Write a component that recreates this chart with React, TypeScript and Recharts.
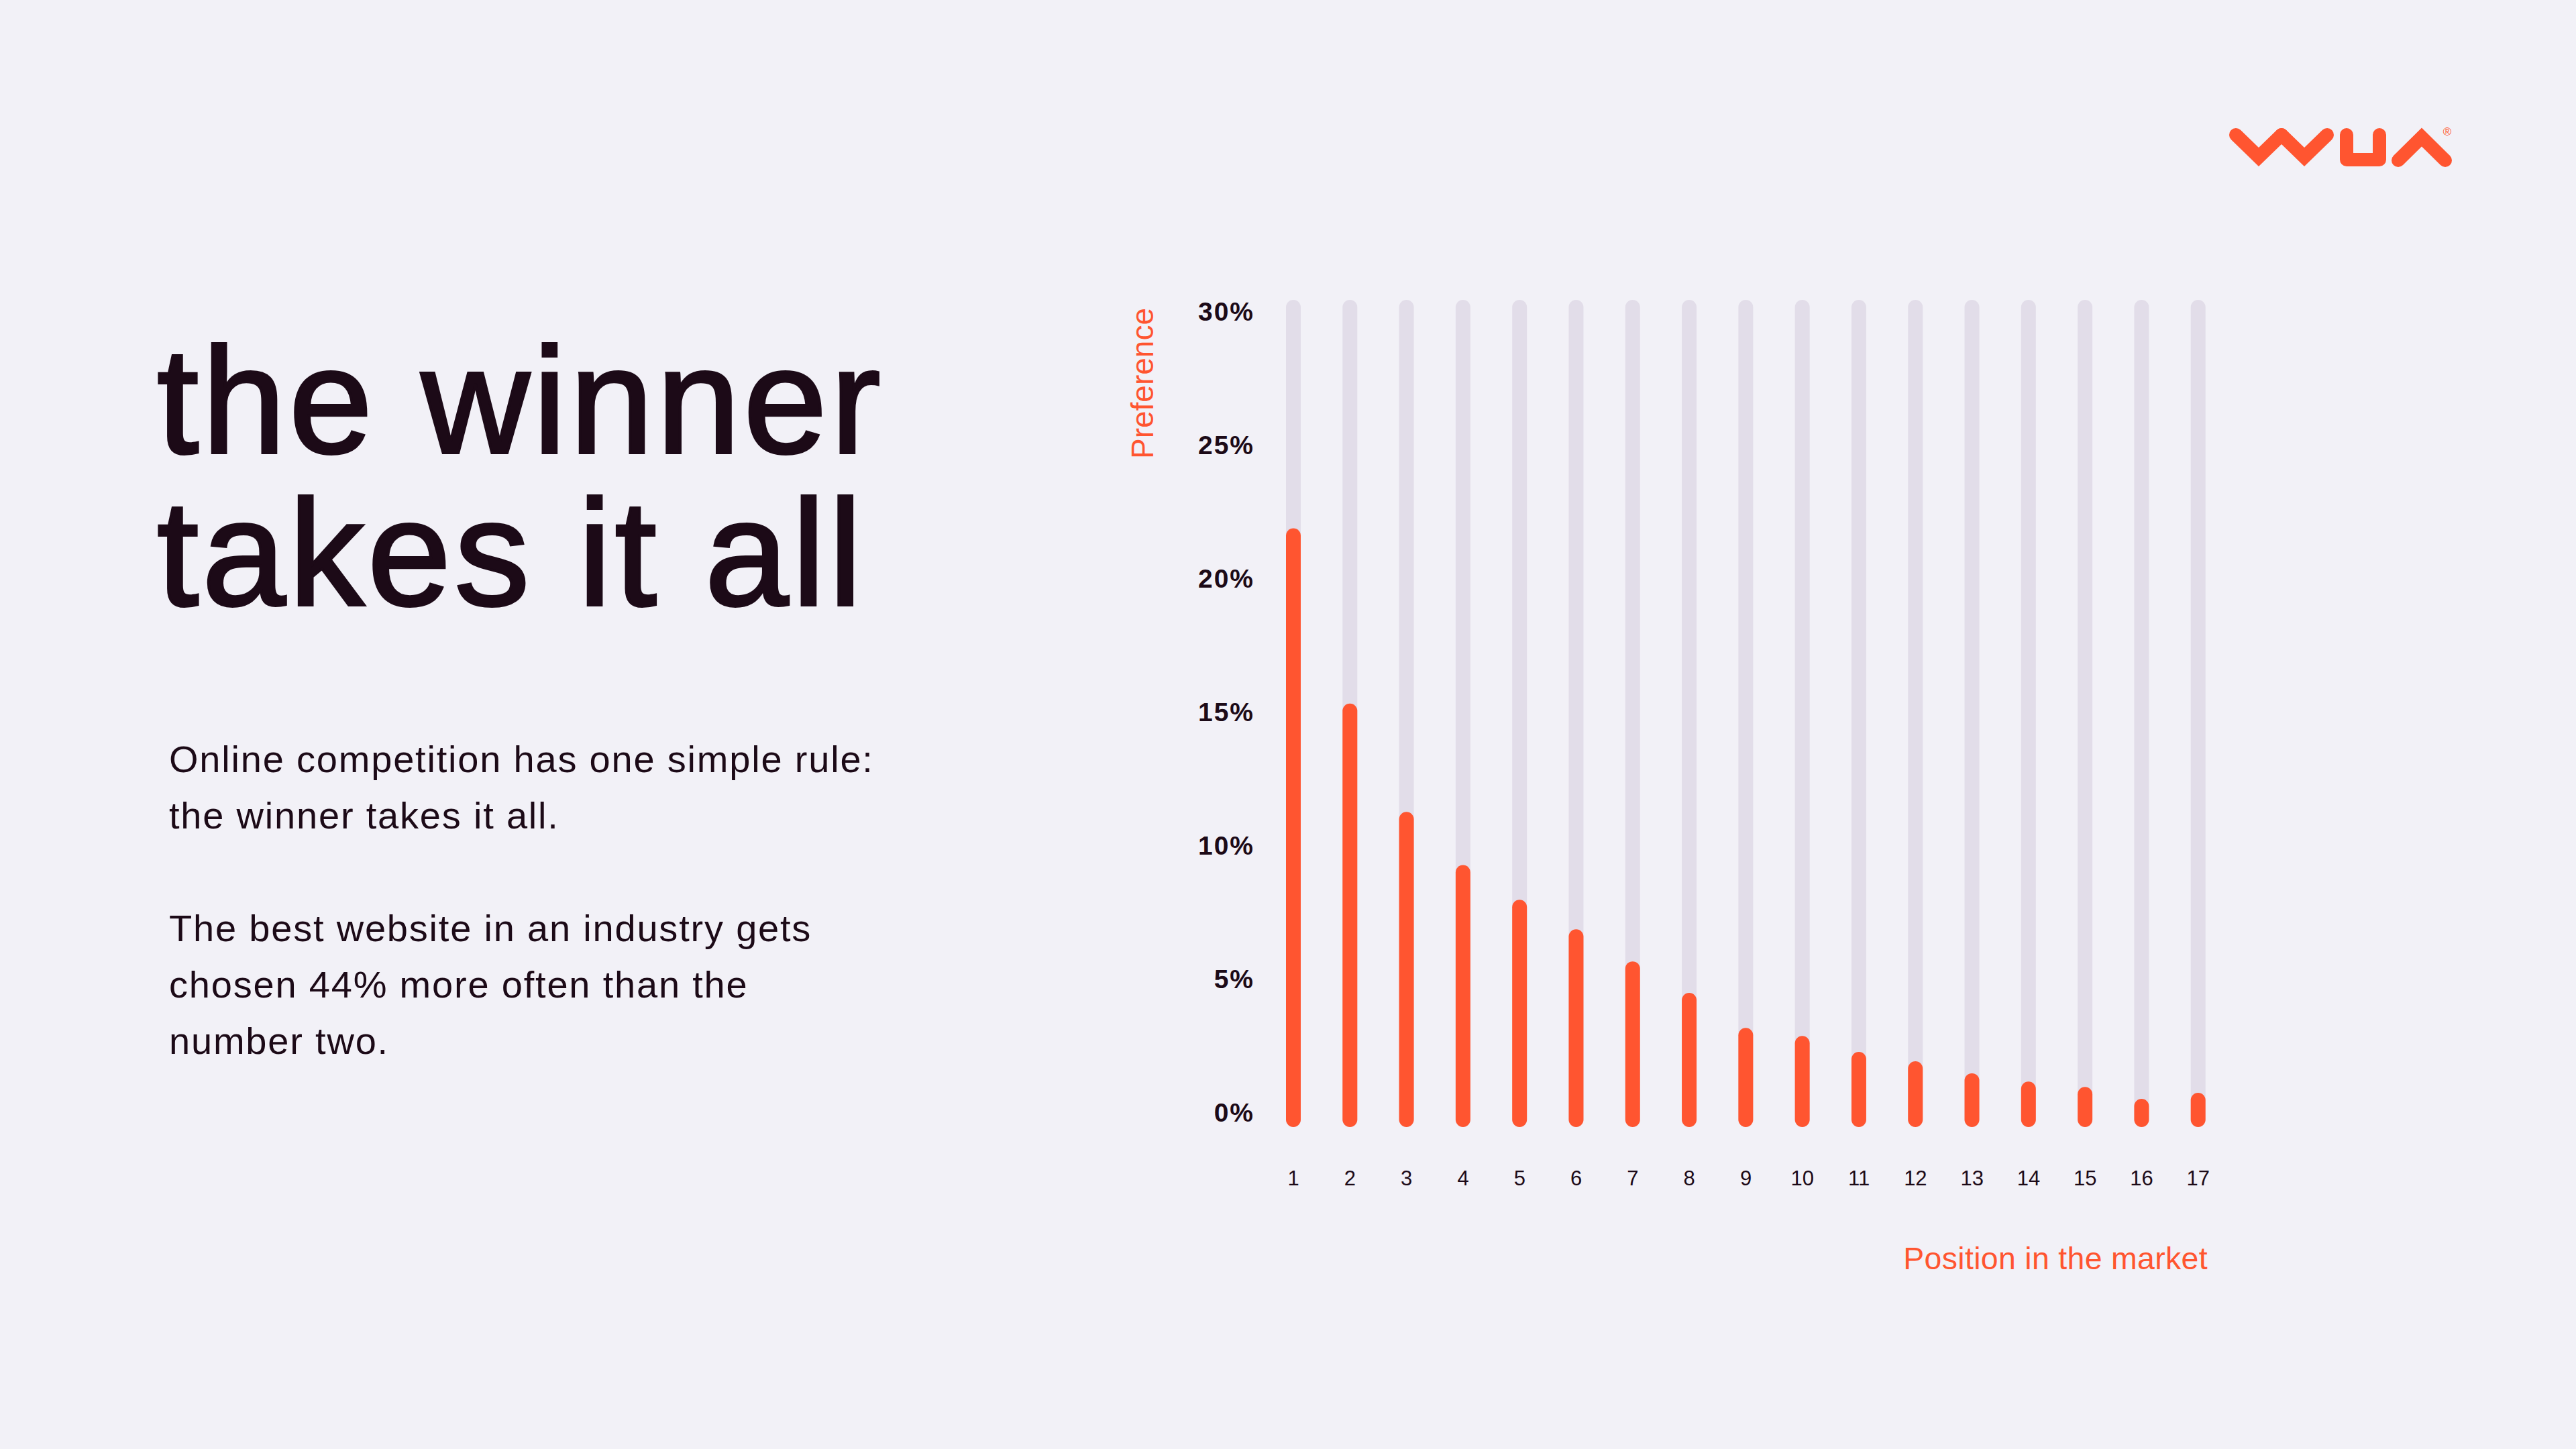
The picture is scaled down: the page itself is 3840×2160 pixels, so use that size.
import React from 'react';
import { BarChart, Bar, XAxis, YAxis } from 'recharts';

const positions = ['1', '2', '3', '4', '5', '6', '7', '8', '9', '10', '11', '12', '13', '14', '15', '16', '17'];
const preference = [21.87, 15.31, 11.25, 9.26, 7.96, 6.85, 5.65, 4.47, 3.16, 2.86, 2.26, 1.91, 1.46, 1.15, 0.95, 0.5, 0.73];
const yTicks = [0, 5, 10, 15, 20, 25, 30];

const data = positions.map((p, i) => ({ pos: p, value: preference[i] }));

const W = 3840;
const H = 2160;
const ORANGE = '#ff5530';
const GREY = '#e2dde9';
const BG = '#f2f1f7';
const INK = '#1c0a17';
const FONT = '"Liberation Sans", Arial, sans-serif';
const CAP_TOP = 17;
const CAP_BOTTOM = 22;

const Track = (p: any) => (
  <rect
    x={p.x}
    y={p.y - CAP_TOP}
    width={p.width}
    height={p.height + CAP_TOP + CAP_BOTTOM}
    rx={p.width / 2}
    ry={p.width / 2}
    fill={GREY}
  />
);

const Fill = (p: any) => (
  <rect
    x={p.x}
    y={p.y}
    width={p.width}
    height={Math.max(0, p.height) + CAP_BOTTOM}
    rx={p.width / 2}
    ry={p.width / 2}
    fill={ORANGE}
  />
);

const XH = 100;

export default function App() {
  return (
    <div
      style={{
        position: 'absolute',
        left: 0,
        top: 0,
        width: W,
        height: H,
        background: BG,
        overflow: 'hidden',
        fontFamily: FONT,
      }}
    >
      <div style={{ position: 'absolute', left: 0, top: 0 }}>
        <BarChart
          width={W}
          height={H}
          data={data}
          margin={{ top: 464, right: 521, left: 1786, bottom: H - 1658 - XH }}
        >
          <XAxis
            dataKey="pos"
            interval={0}
            axisLine={false}
            tickLine={false}
            tickSize={0}
            tickMargin={87}
            height={XH}
            tick={{ fontSize: 31, fill: INK, fontFamily: FONT }}
          />
          <YAxis
            width={100}
            domain={[0, 30]}
            ticks={yTicks}
            interval={0}
            tickFormatter={(v: number) => `${v}%`}
            axisLine={false}
            tickLine={false}
            tickSize={0}
            tickMargin={16}
            tick={{ fontSize: 39, fill: INK, fontWeight: 700, fontFamily: FONT, letterSpacing: 2 }}
          />
          <Bar
            dataKey="value"
            barSize={22}
            isAnimationActive={false}
            background={Track}
            shape={Fill}
          />
        </BarChart>
      </div>

      <svg
        width={W}
        height={H}
        style={{ position: 'absolute', left: 0, top: 0, pointerEvents: 'none' }}
      >
        <g fill="none" stroke={ORANGE} strokeWidth={20} strokeLinecap="round" strokeLinejoin="miter">
          <path d="M3333,201 L3367,234 L3401,201" />
          <path d="M3401,201 L3435,234 L3469,201" />
          <path d="M3498,201 L3498,238 L3547,238 L3547,201" strokeLinejoin="round" />
          <path d="M3575,239 L3610,204.5 L3645,239" />
        </g>
        <text x={3648} y={202} fontSize={17} fill={ORANGE} textAnchor="middle" fontFamily={FONT}>
          ®
        </text>
        <text
          x={1719}
          y={684}
          transform="rotate(-90 1719 684)"
          fontSize={46}
          fill={ORANGE}
          fontFamily={FONT}
        >
          Preference
        </text>
        <text x={3291} y={1892} fontSize={46.5} fill={ORANGE} fontFamily={FONT} textAnchor="end" letterSpacing={0.3}>
          Position in the market
        </text>
      </svg>

      <div
        style={{
          position: 'absolute',
          left: 234,
          top: 484,
          fontSize: 224,
          lineHeight: '227px',
          letterSpacing: '5px',
          color: INK,
          whiteSpace: 'nowrap',
          WebkitTextStroke: `4px ${INK}`,
          fontFamily: FONT,
        }}
      >
        the winner
        <br />
        takes it all
      </div>

      <div
        style={{
          position: 'absolute',
          left: 252,
          top: 1090,
          fontSize: 56,
          lineHeight: '84px',
          letterSpacing: '1.8px',
          color: INK,
          whiteSpace: 'nowrap',
          fontFamily: FONT,
        }}
      >
        Online competition has one simple rule:
        <br />
        the winner takes it all.
        <br />
        <br />
        The best website in an industry gets
        <br />
        chosen 44% more often than the
        <br />
        number two.
      </div>
    </div>
  );
}
